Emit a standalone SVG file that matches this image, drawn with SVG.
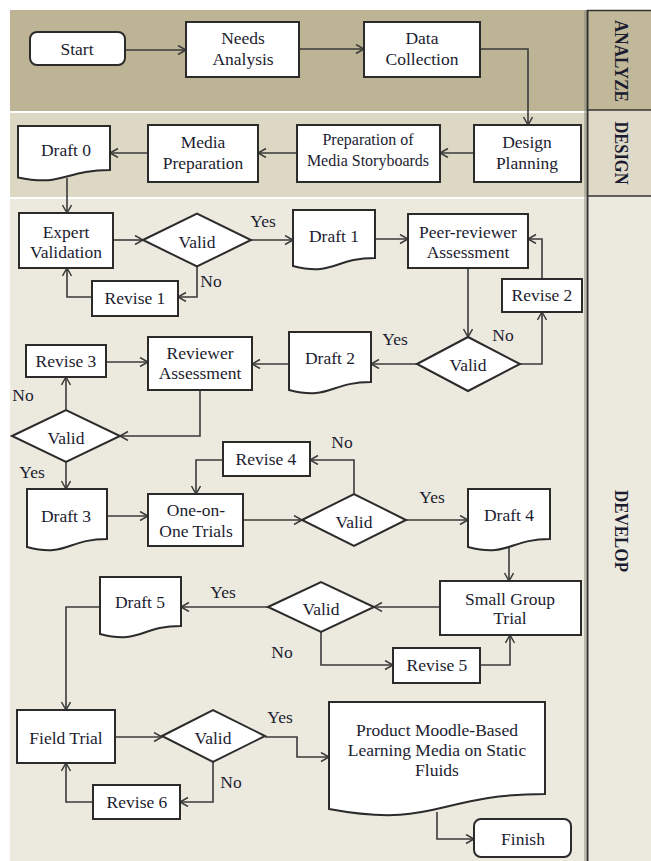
<svg xmlns="http://www.w3.org/2000/svg" width="651" height="861" viewBox="0 0 651 861">
<defs>
<marker id="ah" markerUnits="userSpaceOnUse" markerWidth="12" markerHeight="12" refX="9" refY="5" orient="auto">
<path d="M1,0.5 L9,5 L1,9.5" fill="none" stroke="#3a3a3a" stroke-width="1.5"/>
</marker>
<style>
.box{fill:#fff;stroke:#2b2b2b;stroke-width:2}
.t{font-family:"Liberation Serif","Times New Roman",serif;font-size:17.5px;fill:#1c1c30;text-anchor:middle;dominant-baseline:central}
.s{font-size:16px}
.lab{font-family:"Liberation Serif","Times New Roman",serif;font-size:17.5px;fill:#1c1c30;text-anchor:middle;dominant-baseline:central}
.ph{font-family:"Liberation Serif","Times New Roman",serif;font-size:19px;font-weight:bold;fill:#1c1c30;text-anchor:middle;dominant-baseline:central}
.c{fill:none;stroke:#3a3a3a;stroke-width:1.6;marker-end:url(#ah)}
</style>
</defs>
<rect x="0" y="0" width="651" height="861" fill="#fff"/>
<g id="bands">
<rect x="10" y="10" width="577" height="101" fill="#bdb495"/>
<rect x="10" y="113" width="577" height="84" fill="#dcd8c4"/>
<rect x="10" y="199" width="577" height="662" fill="#eceadf"/>
<rect x="587" y="10" width="64" height="100" fill="#c0b898"/>
<rect x="587" y="110" width="64" height="86" fill="#dedac7"/>
<rect x="587" y="196" width="64" height="665" fill="#eceadf"/>
<line x1="585" y1="10" x2="585" y2="861" stroke="#8a8a80" stroke-width="1"/>
<line x1="587.5" y1="10" x2="587.5" y2="861" stroke="#333" stroke-width="2"/>
<line x1="587" y1="10.5" x2="651" y2="10.5" stroke="#333" stroke-width="1.5"/>
<line x1="587" y1="110" x2="651" y2="110" stroke="#333" stroke-width="1.5"/>
<line x1="587" y1="196" x2="651" y2="196" stroke="#333" stroke-width="1.5"/>
<text class="ph" transform="translate(621,61) rotate(90)" textLength="82" lengthAdjust="spacingAndGlyphs">ANALYZE</text>
<text class="ph" transform="translate(621,153) rotate(90)" textLength="63" lengthAdjust="spacingAndGlyphs">DESIGN</text>
<text class="ph" transform="translate(621,531) rotate(90)" textLength="82" lengthAdjust="spacingAndGlyphs">DEVELOP</text>
</g>
<g id="connectors">
<path class="c" d="M125,50 H186"/>
<path class="c" d="M299,49 H364"/>
<path class="c" d="M480,49 H528 V125"/>
<path class="c" d="M474,153 H440"/>
<path class="c" d="M297,153 H258"/>
<path class="c" d="M148,153 H110"/>
<path class="c" d="M67,178 V213"/>
<path class="c" d="M113,240 H143"/>
<path class="c" d="M251,240 H293"/>
<path class="c" d="M375,239 H408"/>
<path class="c" d="M197,267 V297 H178"/>
<path class="c" d="M92,297 H67 V268"/>
<path class="c" d="M468,268 V337"/>
<path class="c" d="M520,364 H542 V312"/>
<path class="c" d="M542,279 V239 H528"/>
<path class="c" d="M417,364 H371"/>
<path class="c" d="M289,364 H252"/>
<path class="c" d="M200,390 V436 H120"/>
<path class="c" d="M66,410 V377"/>
<path class="c" d="M106,362 H148"/>
<path class="c" d="M66,462 V489"/>
<path class="c" d="M107,516 H148"/>
<path class="c" d="M243,520 H302"/>
<path class="c" d="M354,494 V460 H310"/>
<path class="c" d="M223,460 H196 V494"/>
<path class="c" d="M406,520 H468"/>
<path class="c" d="M509,546 V581"/>
<path class="c" d="M440,607 H374"/>
<path class="c" d="M268,607 H181"/>
<path class="c" d="M321,632 V665 H393"/>
<path class="c" d="M480,665 H510 V635"/>
<path class="c" d="M100,607 H66 V710"/>
<path class="c" d="M115,737 H162"/>
<path class="c" d="M265,737 H297 V757 H329"/>
<path class="c" d="M213,762 V802 H180"/>
<path class="c" d="M93,802 H66 V763"/>
<path class="c" d="M437,812 V839 H474"/>
</g>
<g id="edge-labels">
<text class="lab" x="263" y="221">Yes</text>
<text class="lab" x="211" y="281">No</text>
<text class="lab" x="503" y="335">No</text>
<text class="lab" x="395" y="339">Yes</text>
<text class="lab" x="23" y="395">No</text>
<text class="lab" x="32" y="472">Yes</text>
<text class="lab" x="342" y="442">No</text>
<text class="lab" x="432" y="497">Yes</text>
<text class="lab" x="223" y="592">Yes</text>
<text class="lab" x="282" y="652">No</text>
<text class="lab" x="280" y="717">Yes</text>
<text class="lab" x="231" y="782">No</text>
</g>
<g id="start"><rect class="box" x="30" y="32" width="95" height="33" rx="7"/><text class="t" x="77" y="49">Start</text></g>
<g id="needs-analysis"><rect class="box" x="186" y="22" width="113" height="55"/><text class="t" x="243" y="38">Needs</text><text class="t" x="243" y="59">Analysis</text></g>
<g id="data-collection"><rect class="box" x="364" y="22" width="116" height="55"/><text class="t" x="422" y="38">Data</text><text class="t" x="422" y="59">Collection</text></g>
<g id="design-planning"><rect class="box" x="474" y="125" width="107" height="57"/><text class="t" x="527" y="142">Design</text><text class="t" x="527" y="163">Planning</text></g>
<g id="prep-storyboards"><rect class="box" x="297" y="125" width="143" height="57"/><text class="t s" x="368" y="139">Preparation of</text><text class="t s" x="368" y="160">Media Storyboards</text></g>
<g id="media-preparation"><rect class="box" x="148" y="125" width="110" height="57"/><text class="t" x="203" y="142">Media</text><text class="t" x="203" y="163">Preparation</text></g>
<g id="draft0"><path class="box" d="M18,126 H110 V170 C64,170 64,187 18,177.5 Z"/><text class="t" x="66" y="150">Draft 0</text></g>
<g id="expert-validation"><rect class="box" x="19" y="213" width="94" height="55"/><text class="t" x="66" y="232">Expert</text><text class="t" x="66" y="252">Validation</text></g>
<g id="valid1"><polygon class="box" points="143,240 197,213.5 251,240 197,266.5"/><text class="t" x="197" y="242">Valid</text></g>
<g id="draft1"><path class="box" d="M293,210 H375 V258 C334,258 334,276.5 293,266 Z"/><text class="t" x="334" y="236">Draft 1</text></g>
<g id="peer-reviewer"><rect class="box" x="408" y="214" width="120" height="54"/><text class="t" x="468" y="232">Peer-reviewer</text><text class="t" x="468" y="252">Assessment</text></g>
<g id="revise1"><rect class="box" x="92" y="281" width="86" height="35"/><text class="t" x="135" y="298">Revise 1</text></g>
<g id="revise2"><rect class="box" x="502" y="279" width="80" height="33"/><text class="t" x="542" y="295">Revise 2</text></g>
<g id="valid2"><polygon class="box" points="417,364 468,337 520,364 468,391"/><text class="t" x="468" y="365">Valid</text></g>
<g id="draft2"><path class="box" d="M289,332 H371 V382 C330,382 330,400.6 289,390 Z"/><text class="t" x="330" y="358">Draft 2</text></g>
<g id="reviewer-assessment"><rect class="box" x="148" y="337" width="104" height="53"/><text class="t" x="200" y="353">Reviewer</text><text class="t" x="200" y="373">Assessment</text></g>
<g id="revise3"><rect class="box" x="26" y="345" width="80" height="32"/><text class="t" x="66" y="361">Revise 3</text></g>
<g id="valid3"><polygon class="box" points="12,436 66,410 120,436 66,462"/><text class="t" x="66" y="438">Valid</text></g>
<g id="draft3"><path class="box" d="M27,489 H107 V539 C67,539 67,557.6 27,547 Z"/><text class="t" x="66" y="516">Draft 3</text></g>
<g id="one-on-one"><rect class="box" x="148" y="494" width="95" height="52"/><text class="t" x="196" y="510">One-on-</text><text class="t" x="196" y="531">One Trials</text></g>
<g id="revise4"><rect class="box" x="223" y="442" width="87" height="34"/><text class="t" x="266" y="459">Revise 4</text></g>
<g id="valid4"><polygon class="box" points="302,520 354,494 406,520 354,546"/><text class="t" x="354" y="522">Valid</text></g>
<g id="draft4"><path class="box" d="M468,489 H550 V539 C509,539 509,557.6 468,547 Z"/><text class="t" x="509" y="515">Draft 4</text></g>
<g id="small-group"><rect class="box" x="440" y="581" width="141" height="54"/><text class="t" x="510" y="599">Small Group</text><text class="t" x="510" y="618">Trial</text></g>
<g id="valid5"><polygon class="box" points="268,607 321,582 374,607 321,632"/><text class="t" x="321" y="609">Valid</text></g>
<g id="revise5"><rect class="box" x="393" y="648" width="87" height="35"/><text class="t" x="437" y="665">Revise 5</text></g>
<g id="draft5"><path class="box" d="M100,577 H181 V626 C140.5,626 140.5,644.5 100,634 Z"/><text class="t" x="140" y="602">Draft 5</text></g>
<g id="field-trial"><rect class="box" x="17" y="710" width="98" height="53"/><text class="t" x="66" y="738">Field Trial</text></g>
<g id="valid6"><polygon class="box" points="162,736 213,710 265,736 213,762"/><text class="t" x="213" y="738">Valid</text></g>
<g id="revise6"><rect class="box" x="93" y="785" width="87" height="34"/><text class="t" x="137" y="802">Revise 6</text></g>
<g id="product"><path class="box" d="M329,702 H545 V794 C437,794 437,829 329,809 Z"/><text class="t" x="437" y="730">Product Moodle-Based</text><text class="t" x="437" y="750">Learning Media on Static</text><text class="t" x="437" y="770">Fluids</text></g>
<g id="finish"><rect class="box" x="474" y="819" width="97" height="38" rx="7"/><text class="t" x="523" y="839">Finish</text></g>
</svg>
